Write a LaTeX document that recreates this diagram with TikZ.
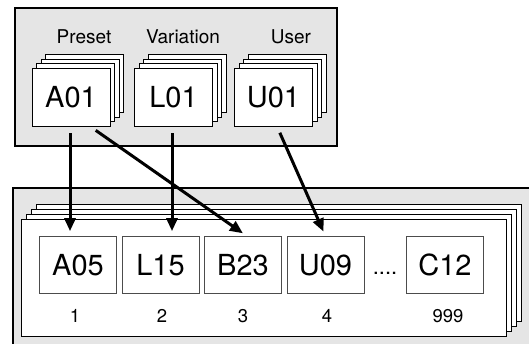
\documentclass[tikz,border=0pt]{standalone}
\usepackage{fontspec}
\setmainfont{TeX Gyre Heros}
\usetikzlibrary{arrows.meta}
\tikzset{
	panel/.style={draw,line width=1.2pt,fill=gray!20},
	sheet/.style={draw,line width=0.7pt,fill=white},
	patch/.style={sheet,minimum width=78pt,minimum height=58pt,inner sep=0pt,font=\fontsize{29}{32}\selectfont},
	slot/.style={draw=black!70,line width=0.7pt,fill=white,minimum width=77pt,minimum height=57pt,inner sep=0pt,font=\fontsize{29}{32}\selectfont},
	bank/.style={font=\fontsize{19}{21}\selectfont},
	num/.style={font=\fontsize{18.5}{20}\selectfont},
	link/.style={line width=3pt,-{Triangle[length=13pt,width=11pt]},shorten <=7pt,shorten >=5pt}
}
\begin{document}
\begin{tikzpicture}[x=1pt,y=-1pt]
	\useasboundingbox (0,0) rectangle (529,344);
	\clip (0,0) rectangle (529,344);
	% panels
	\draw[panel] (15,8) rectangle (337,146);
	\draw[panel] (13,188) rectangle (545,360);
	% sheets of the big stack
	\foreach \k in {15,10,5,0}
		\draw[sheet] (21+\k,219-\k) rectangle (506+\k,336-\k);
	% slots
	\node[slot] (a05) at (78,265) {A05};
	\node[slot] (l15) at (160.5,265) {L15};
	\node[slot] (b23) at (243,265) {B23};
	\node[slot] (u09) at (325.5,265) {U09};
	\node[slot] (c12) at (445,265) {C12};
	\node[font=\fontsize{22}{24}\selectfont,anchor=base] (dots) at (385,274) {....};
	\node[num] (n1) at (75,316) {1};
	\node[num] (n2) at (162,316) {2};
	\node[num] (n3) at (243,316) {3};
	\node[num] (n4) at (327,316) {4};
	\node[num] (n999) at (448,316) {999};
	% banks
	\foreach \x in {71,173.5,273.5}
		\foreach \k in {13.5,9,4.5}
			\draw[sheet] (\x-39+\k,68-\k) rectangle (\x+39+\k,126-\k);
	\node[patch] (a01) at (71,97) {A01};
	\node[patch] (l01) at (173.5,97) {L01};
	\node[patch] (u01) at (273.5,97) {U01};
	\node[bank] (preset) at (84,37) {Preset};
	\node[bank] (variation) at (183,37) {Variation};
	\node[bank] (user) at (291,37) {User};
	% links
	\draw[link] ([xshift=-1pt]a01.south) -- ([xshift=-1pt]a01.south |- a05.north);
	\draw[link] ([xshift=-1.5pt]l01.south) -- ([xshift=-1.5pt]l01.south |- l15.north);
	\draw[link] ([xshift=19pt]a01.south) -- ([xshift=4pt]b23.north);
	\draw[link] ([xshift=3.5pt]u01.south) -- (u09.north);
\end{tikzpicture}
\end{document}
